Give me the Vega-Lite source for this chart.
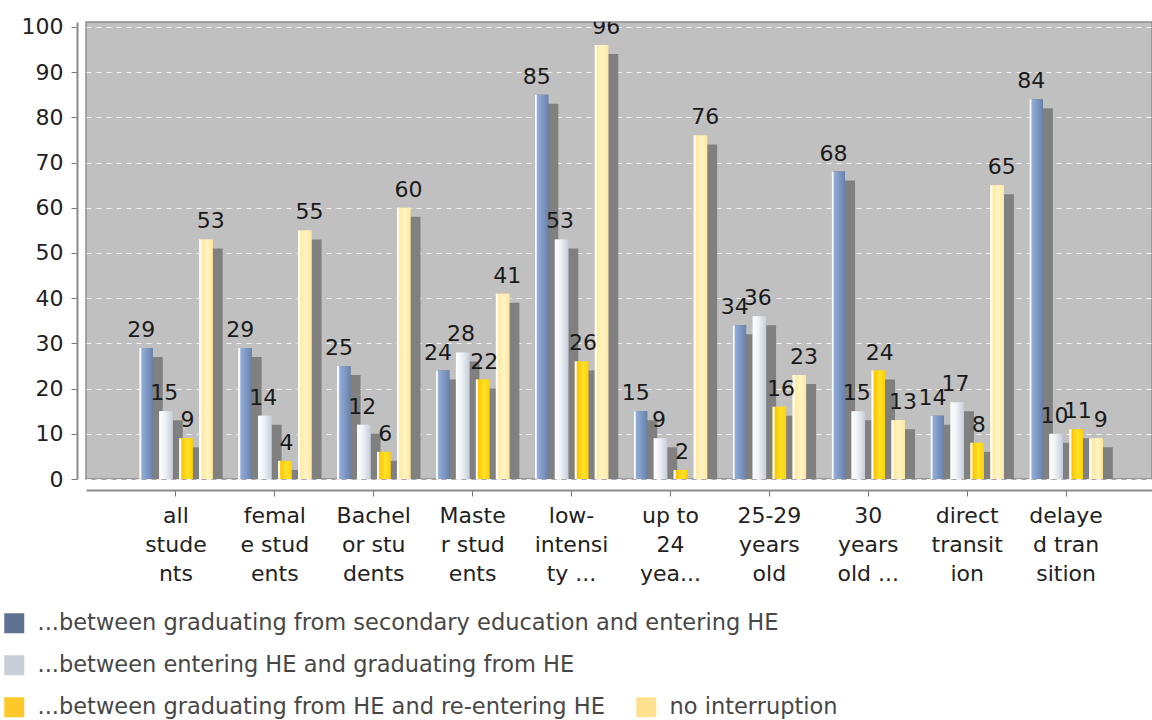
{
  "$schema": "https://vega.github.io/schema/vega-lite/v6.json",
  "width": 1066,
  "height": 457,
  "autosize": {"type": "none"},
  "padding": {"left": 86, "top": 22, "right": 0, "bottom": 241},
  "background": "white",
  "config": {
    "font": "DejaVu Sans",
    "view": {"fill": "#c0c0c0", "stroke": "#8c8c8c", "strokeWidth": 1.5}
  },
  "data": {
    "values": [
      {"group": "all students", "series": "...between graduating from secondary education and entering HE", "value": 29},
      {"group": "all students", "series": "...between entering HE and graduating from HE", "value": 15},
      {"group": "all students", "series": "...between graduating from HE and re-entering HE", "value": 9},
      {"group": "all students", "series": "no interruption", "value": 53},
      {"group": "female students", "series": "...between graduating from secondary education and entering HE", "value": 29},
      {"group": "female students", "series": "...between entering HE and graduating from HE", "value": 14},
      {"group": "female students", "series": "...between graduating from HE and re-entering HE", "value": 4},
      {"group": "female students", "series": "no interruption", "value": 55},
      {"group": "Bachelor students", "series": "...between graduating from secondary education and entering HE", "value": 25},
      {"group": "Bachelor students", "series": "...between entering HE and graduating from HE", "value": 12},
      {"group": "Bachelor students", "series": "...between graduating from HE and re-entering HE", "value": 6},
      {"group": "Bachelor students", "series": "no interruption", "value": 60},
      {"group": "Master students", "series": "...between graduating from secondary education and entering HE", "value": 24},
      {"group": "Master students", "series": "...between entering HE and graduating from HE", "value": 28},
      {"group": "Master students", "series": "...between graduating from HE and re-entering HE", "value": 22},
      {"group": "Master students", "series": "no interruption", "value": 41},
      {"group": "low-intensity ...", "series": "...between graduating from secondary education and entering HE", "value": 85},
      {"group": "low-intensity ...", "series": "...between entering HE and graduating from HE", "value": 53},
      {"group": "low-intensity ...", "series": "...between graduating from HE and re-entering HE", "value": 26},
      {"group": "low-intensity ...", "series": "no interruption", "value": 96},
      {"group": "up to 24 yea...", "series": "...between graduating from secondary education and entering HE", "value": 15},
      {"group": "up to 24 yea...", "series": "...between entering HE and graduating from HE", "value": 9},
      {"group": "up to 24 yea...", "series": "...between graduating from HE and re-entering HE", "value": 2},
      {"group": "up to 24 yea...", "series": "no interruption", "value": 76},
      {"group": "25-29 years old", "series": "...between graduating from secondary education and entering HE", "value": 34},
      {"group": "25-29 years old", "series": "...between entering HE and graduating from HE", "value": 36},
      {"group": "25-29 years old", "series": "...between graduating from HE and re-entering HE", "value": 16},
      {"group": "25-29 years old", "series": "no interruption", "value": 23},
      {"group": "30 years old ...", "series": "...between graduating from secondary education and entering HE", "value": 68},
      {"group": "30 years old ...", "series": "...between entering HE and graduating from HE", "value": 15},
      {"group": "30 years old ...", "series": "...between graduating from HE and re-entering HE", "value": 24},
      {"group": "30 years old ...", "series": "no interruption", "value": 13},
      {"group": "direct transition", "series": "...between graduating from secondary education and entering HE", "value": 14},
      {"group": "direct transition", "series": "...between entering HE and graduating from HE", "value": 17},
      {"group": "direct transition", "series": "...between graduating from HE and re-entering HE", "value": 8},
      {"group": "direct transition", "series": "no interruption", "value": 65},
      {"group": "delayed transition", "series": "...between graduating from secondary education and entering HE", "value": 84},
      {"group": "delayed transition", "series": "...between entering HE and graduating from HE", "value": 10},
      {"group": "delayed transition", "series": "...between graduating from HE and re-entering HE", "value": 11},
      {"group": "delayed transition", "series": "no interruption", "value": 9}
    ]
  },
  "encoding": {
    "x": {
      "field": "group",
      "type": "nominal",
      "sort": null,
      "scale": {"paddingInner": 0, "paddingOuter": 0.389, "align": 0.526},
      "axis": {
        "title": null,
        "labelAngle": 0,
        "offset": 11,
        "domainColor": "#8c8c8c",
        "domainWidth": 2,
        "tickColor": "#777777",
        "tickSize": 6,
        "labelFontSize": 22,
        "labelColor": "#222222",
        "labelLineHeight": 29,
        "labelPadding": 9,
        "labelBaseline": "top",
        "labelExpr": "{'all students':['all','stude','nts'],'female students':['femal','e stud','ents'],'Bachelor students':['Bachel','or stu','dents'],'Master students':['Maste','r stud','ents'],'low-intensity ...':['low-','intensi','ty ...'],'up to 24 yea...':['up to','24','yea...'],'25-29 years old':['25-29','years','old'],'30 years old ...':['30','years','old ...'],'direct transition':['direct','transit','ion'],'delayed transition':['delaye','d tran','sition']}[datum.value]"
      }
    },
    "y": {
      "field": "value",
      "type": "quantitative",
      "scale": {"domain": [0, 101.1], "nice": false},
      "axis": {
        "title": null,
        "values": [0, 10, 20, 30, 40, 50, 60, 70, 80, 90, 100],
        "offset": 9,
        "domainColor": "#8c8c8c",
        "domainWidth": 2,
        "tickColor": "#777777",
        "tickSize": 6,
        "labelFontSize": 22,
        "labelColor": "#222222",
        "labelPadding": 8,
        "grid": true,
        "gridColor": "#ffffff",
        "gridDash": [5, 5],
        "gridOpacity": 0.8
      }
    }
  },
  "layer": [
    {
      "mark": {"type": "bar", "color": "#808080", "yOffset": 9, "clip": true},
      "encoding": {
        "xOffset": {"field": "series", "sort": null, "scale": {"domain": ["...between graduating from secondary education and entering HE", "...between entering HE and graduating from HE", "...between graduating from HE and re-entering HE", "no interruption"], "paddingInner": 0.325, "paddingOuter": 0.6375, "align": 0.894}}
      }
    },
    {
      "transform": [{"filter": "datum.series !== 'no interruption'"}],
      "mark": {"type": "bar"},
      "encoding": {
        "xOffset": {"field": "series", "sort": null, "scale": {"domain": ["...between graduating from secondary education and entering HE", "...between entering HE and graduating from HE", "...between graduating from HE and re-entering HE", "no interruption"], "paddingInner": 0.325, "paddingOuter": 0.6375, "align": 0.5}},
        "color": {
          "field": "series",
          "type": "nominal",
          "sort": null,
          "scale": {"domain": ["...between graduating from secondary education and entering HE", "...between entering HE and graduating from HE", "...between graduating from HE and re-entering HE"], "range": ["#5f7391", "#c8ced8", "#ffc82a"]},
          "legend": {"title": null, "orient": "none", "legendX": -83, "legendY": 590, "direction": "vertical", "symbolType": "square", "symbolSize": 400, "symbolStrokeWidth": 0, "labelFontSize": 22.5, "labelColor": "#474747", "labelOffset": 12, "labelLimit": 0, "rowPadding": 19, "padding": 0}
        }
      }
    },
    {
      "transform": [{"filter": "datum.series === 'no interruption'"}],
      "mark": {"type": "bar"},
      "encoding": {
        "xOffset": {"field": "series", "sort": null, "scale": {"domain": ["...between graduating from secondary education and entering HE", "...between entering HE and graduating from HE", "...between graduating from HE and re-entering HE", "no interruption"], "paddingInner": 0.325, "paddingOuter": 0.6375, "align": 0.5}},
        "color": {
          "field": "series",
          "type": "nominal",
          "scale": {"domain": ["no interruption"], "range": ["#ffe08f"]},
          "legend": {"title": null, "orient": "none", "legendX": 549, "legendY": 674, "symbolType": "square", "symbolSize": 400, "symbolStrokeWidth": 0, "labelFontSize": 22.5, "labelColor": "#474747", "labelOffset": 12, "labelLimit": 0, "padding": 0}
        }
      }
    },
    {
      "transform": [{"filter": "datum.series === '...between graduating from secondary education and entering HE'"}],
      "mark": {"type": "bar", "color": {"gradient": "linear", "x1": 0, "x2": 1, "y1": 0, "y2": 0, "stops": [{"offset": 0, "color": "#ffffff"}, {"offset": 0.1, "color": "#ffffff"}, {"offset": 0.2, "color": "#91acd6"}, {"offset": 1, "color": "#6882ad"}]}},
      "encoding": {
        "xOffset": {"field": "series", "sort": null, "scale": {"domain": ["...between graduating from secondary education and entering HE", "...between entering HE and graduating from HE", "...between graduating from HE and re-entering HE", "no interruption"], "paddingInner": 0.325, "paddingOuter": 0.6375, "align": 0.5}}
      }
    },
    {
      "transform": [{"filter": "datum.series === '...between entering HE and graduating from HE'"}],
      "mark": {"type": "bar", "color": {"gradient": "linear", "x1": 0, "x2": 1, "y1": 0, "y2": 0, "stops": [{"offset": 0, "color": "#ffffff"}, {"offset": 0.45, "color": "#eef1f5"}, {"offset": 1, "color": "#c6cdd9"}]}},
      "encoding": {
        "xOffset": {"field": "series", "sort": null, "scale": {"domain": ["...between graduating from secondary education and entering HE", "...between entering HE and graduating from HE", "...between graduating from HE and re-entering HE", "no interruption"], "paddingInner": 0.325, "paddingOuter": 0.6375, "align": 0.5}}
      }
    },
    {
      "transform": [{"filter": "datum.series === '...between graduating from HE and re-entering HE'"}],
      "mark": {"type": "bar", "color": {"gradient": "linear", "x1": 0, "x2": 1, "y1": 0, "y2": 0, "stops": [{"offset": 0, "color": "#ffffff"}, {"offset": 0.1, "color": "#ffffff"}, {"offset": 0.2, "color": "#ffc400"}, {"offset": 0.6, "color": "#ffe22a"}, {"offset": 1, "color": "#ffd200"}]}},
      "encoding": {
        "xOffset": {"field": "series", "sort": null, "scale": {"domain": ["...between graduating from secondary education and entering HE", "...between entering HE and graduating from HE", "...between graduating from HE and re-entering HE", "no interruption"], "paddingInner": 0.325, "paddingOuter": 0.6375, "align": 0.5}}
      }
    },
    {
      "transform": [{"filter": "datum.series === 'no interruption'"}],
      "mark": {"type": "bar", "color": {"gradient": "linear", "x1": 0, "x2": 1, "y1": 0, "y2": 0, "stops": [{"offset": 0, "color": "#ffffff"}, {"offset": 0.1, "color": "#ffffff"}, {"offset": 0.2, "color": "#ffeaa0"}, {"offset": 0.6, "color": "#fff4c6"}, {"offset": 1, "color": "#ffe89e"}]}},
      "encoding": {
        "xOffset": {"field": "series", "sort": null, "scale": {"domain": ["...between graduating from secondary education and entering HE", "...between entering HE and graduating from HE", "...between graduating from HE and re-entering HE", "no interruption"], "paddingInner": 0.325, "paddingOuter": 0.6375, "align": 0.5}}
      }
    },
    {
      "mark": {"type": "text", "fontSize": 22, "color": "#1a1a1a", "baseline": "alphabetic", "dy": -11, "clip": true},
      "encoding": {
        "xOffset": {"field": "series", "sort": null, "scale": {"domain": ["...between graduating from secondary education and entering HE", "...between entering HE and graduating from HE", "...between graduating from HE and re-entering HE", "no interruption"], "paddingInner": 0.325, "paddingOuter": 0.6375, "align": 0.5}},
        "text": {"field": "value", "type": "quantitative"}
      }
    }
  ],
  "resolve": {"scale": {"xOffset": "independent", "color": "independent"}}
}
